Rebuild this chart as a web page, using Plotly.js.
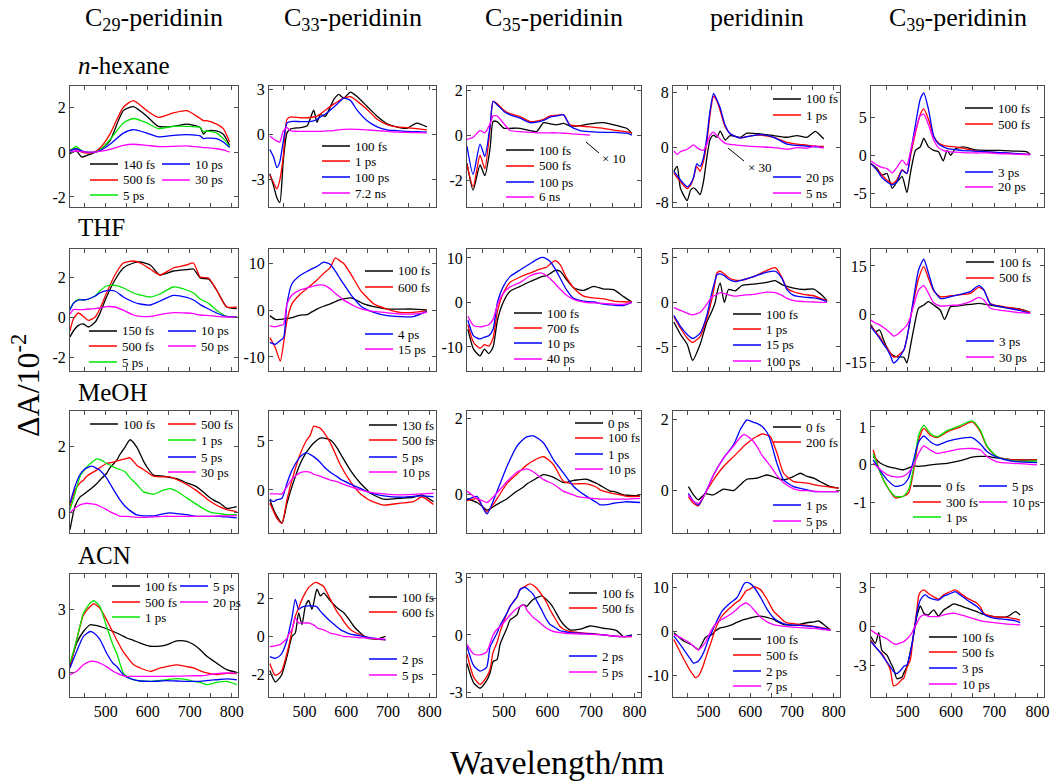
<!DOCTYPE html>
<html><head><meta charset="utf-8">
<script src="https://cdn.plot.ly/plotly-3.0.1.min.js"></script>
<style>html,body{margin:0;padding:0;background:#fff}</style>
</head><body><div id="chart" style="width:1050px;height:783px"></div>
<script>
// ---------- DATA (ΔA / 10^-2 versus wavelength in nm) ----------
// Row 1: n-hexane
const hex_C29_wl = [415,430,443,455,475,490,510,542,566,598,625,661,693,725,733,740,764,780,795];
const hex_C29_labels = ['140 fs','500 fs','5 ps','10 ps','30 ps'];
const hex_C29_140fs = [-0.07,0.05,-0.22,-0.15,0.0,0.15,0.5,1.85,2.03,1.6,1.15,1.15,1.25,1.1,0.8,0.95,0.95,0.8,0.3];
const hex_C29_500fs = [0.1,0.15,0.0,-0.05,0.02,0.25,0.8,2.0,2.3,1.85,1.55,1.75,1.85,1.5,1.4,1.4,1.25,1.05,0.45];
const hex_C29_5ps = [0.05,0.25,0.05,0.0,0.0,0.15,0.55,1.3,1.5,1.3,1.05,1.15,1.15,1.1,0.9,0.95,0.85,0.6,0.25];
const hex_C29_10ps = [0.05,0.15,0.05,0.0,0.0,0.1,0.35,0.85,1.0,0.85,0.68,0.75,0.78,0.72,0.6,0.62,0.6,0.45,0.2];
const hex_C29_30ps = [0.0,0.05,0.02,0.0,0.0,0.04,0.12,0.3,0.35,0.3,0.25,0.26,0.28,0.22,0.2,0.2,0.15,0.1,0.0];

const hex_C33_wl = [417,426,434,441,449,458,466,490,506,522,530,538,550,570,582,594,610,626,650,674,698,720,745,769,793];
const hex_C33_labels = ['100 fs','1 ps','100 ps','7.2 ns'];
const hex_C33_100fs = [-2.6,-3.4,-4.2,-4.5,-1.8,0.1,0.35,0.45,0.55,1.6,0.8,1.3,1.2,2.3,2.65,2.4,2.8,2.5,1.85,1.2,0.7,0.5,0.4,0.75,0.5];
const hex_C33_1ps = [-2.7,-3.2,-3.6,-3.0,-1.5,1.0,1.15,1.1,1.1,1.15,1.2,1.35,1.6,2.0,2.2,2.4,2.5,2.2,1.65,1.0,0.65,0.5,0.45,0.38,0.3];
const hex_C33_100ps = [-1.0,-1.5,-2.2,-1.8,-0.5,0.75,0.85,0.85,0.85,0.9,1.0,1.15,1.35,1.8,2.1,2.4,2.25,1.6,0.9,0.5,0.3,0.25,0.2,0.18,0.15];
const hex_C33_7p2ns = [-0.1,-0.3,-0.45,-0.5,0.2,0.45,0.25,0.2,0.2,0.2,0.2,0.2,0.22,0.25,0.3,0.33,0.35,0.33,0.3,0.25,0.2,0.15,0.13,0.12,0.1];

const hex_C35_wl = [415,429,445,456,468,475,484,500,514,537,560,575,591,606,621,637,652,675,698,729,752,767,782,794];
const hex_C35_labels = ['100 fs','500 fs','100 ps','6 ns'];
const hex_C35_100fs = [-1.25,-2.45,-1.33,-1.8,-0.6,0.6,0.6,0.3,0.3,0.3,0.2,0.15,0.55,0.5,0.45,0.52,0.4,0.42,0.5,0.55,0.45,0.38,0.3,0.07];
const hex_C35_500fs = [-1.3,-2.3,-0.9,-1.5,0.3,1.5,1.4,1.1,0.95,0.82,0.6,0.62,0.7,0.85,0.88,0.9,0.45,0.4,0.36,0.3,0.22,0.18,0.14,0.1];
const hex_C35_100ps = [-0.5,-1.75,-0.4,-0.95,0.4,1.5,1.35,1.05,0.9,0.75,0.55,0.57,0.65,0.8,0.85,0.9,0.4,0.2,0.15,0.12,0.12,0.1,0.08,0.0];
const hex_C35_6ns = [-0.2,-0.1,0.2,0.1,0.5,0.85,0.85,0.5,0.2,0.15,0.12,0.1,0.1,0.1,0.1,0.08,0.06,0.03,0.0,null,null,null,null,null];

const hex_per_wl = [417,425,433,449,457,464,472,480,488,496,504,512,520,528,540,552,576,592,624,656,688,712,736,756,768,776];
const hex_per_labels = ['100 fs','1 ps','20 ps','5 ns'];
const hex_per_100fs = [-3.5,-2.75,-6,-7.75,-6.25,-5.9,-6.3,-6.9,-5,-1.5,1.2,1.8,1.5,2.4,1.1,1.75,1.5,2.1,2.0,1.75,1.5,1.75,1.5,2.35,1.75,1.25];
const hex_per_1ps = [-3.75,-4.4,-5,-6,-5.5,-4.5,-2.75,-3.5,-2,0.8,5,7.5,6.8,5.4,3,2.0,1.4,1.6,1.8,1.5,0.75,0.5,0.35,0.2,0.15,0.15];
const hex_per_20ps = [-3.5,-4.1,-4.75,-5.75,-5.3,-4.4,-2.4,-2.75,-1.5,1.5,5.5,7.9,7.0,5.8,3.25,2.0,1.4,1.6,1.9,1.5,0.5,0.3,0.2,0.1,0.05,0.0];
const hex_per_5ns = [-0.5,-1,-0.6,-0.25,0.1,0.4,0.0,-0.3,-0.4,0.5,1.8,2.25,1.75,1.2,0.6,0.45,0.3,0.2,0.1,0.0,-0.25,0.0,-0.1,0.25,0.0,0.0];

const hex_C39_wl = [415,429,440,452,464,475,487,498,506,518,529,537,548,560,571,582,591,599,610,629,653,683,714,745,776,783];
const hex_C39_labels = ['100 fs','500 fs','3 ps','20 ps'];
const hex_C39_100fs = [-1.1,-1.75,-2.6,-2.4,-4.35,-3.5,-2.8,-4.9,-2.4,0.65,1.1,2.2,1.1,0.65,0.45,-0.75,0.65,0.0,0.85,1.1,0.75,0.65,0.65,0.55,0.45,0.1];
const hex_C39_500fs = [-1.1,-1.9,-2.6,-3.3,-3.7,-3.2,-1.9,-2.4,-0.2,3.0,5.4,6.1,4.7,2.5,1.6,1.3,1.2,1.15,1.1,0.9,0.6,0.45,0.32,0.22,0.12,0.1];
const hex_C39_3ps = [-1.1,-2.0,-2.9,-3.5,-3.9,-3.5,-2.0,-2.4,0.2,4.1,7.4,8.2,6.0,2.5,1.5,1.1,0.9,0.8,0.75,0.6,0.55,0.45,0.35,0.25,0.12,0.1];
const hex_C39_20ps = [-0.75,-1.3,-1.6,-1.75,-2.3,-1.6,-0.65,-1.3,0.45,3.25,5.2,5.4,4.0,2.0,1.0,0.65,0.5,0.45,0.4,0.35,0.3,0.3,0.2,0.15,0.1,0.1];

// Row 2: THF
const thf_C29_wl = [415,423,435,447,459,475,486,502,522,542,566,582,606,629,661,693,709,725,745,764,788,812];
const thf_C29_labels = ['150 fs','500 fs','5 ps','10 ps','50 ps'];
const thf_C29_150fs = [-1.0,-0.7,-0.42,-0.35,-0.5,-0.25,0.17,1.0,1.85,2.45,2.7,2.75,2.6,2.1,2.3,2.37,2.4,1.95,1.9,1.35,0.5,0.42];
const thf_C29_500fs = [-0.7,-0.1,0.2,0.03,-0.17,0.0,0.4,1.2,2.1,2.7,2.8,2.7,2.4,2.1,2.45,2.6,2.7,2.0,1.95,1.35,0.5,0.5];
const thf_C29_5ps = [0.42,0.68,0.88,0.85,0.9,1.05,1.3,1.55,1.58,1.45,1.2,1.1,1.0,1.15,1.5,1.35,1.2,0.9,0.68,0.34,0.03,0.0];
const thf_C29_10ps = [0.34,0.68,0.85,0.85,0.9,1.05,1.2,1.32,1.3,1.0,0.75,0.65,0.6,0.8,1.08,0.98,0.85,0.62,0.4,0.2,0.03,0.0];
const thf_C29_50ps = [0.14,0.37,0.37,0.37,0.4,0.42,0.45,0.52,0.5,0.34,0.1,0.03,0.03,0.12,0.22,0.2,0.17,0.1,0.07,0.03,0.0,0.0];

const thf_C33_wl = [417,430,442,450,458,470,490,506,514,530,546,562,574,586,594,610,618,634,642,666,698,729,761,793];
const thf_C33_labels = ['100 fs','600 fs','4 ps','15 ps'];
const thf_C33_100fs = [-1.2,-2.0,-2.0,-1.9,-1.8,-1.6,-1.1,-1.0,-0.6,0.2,0.8,1.3,1.8,2.2,2.35,2.6,2.4,1.65,1.3,0.7,0.2,0.2,0.2,0.0];
const thf_C33_600fs = [-5.9,-8,-10.9,-7,-2.3,1.3,3.4,4.6,5.2,6.4,7.8,9.1,11.1,10.4,9.9,7.8,6.6,4.2,3.4,1.3,0.2,-0.5,-0.5,-0.15];
const thf_C33_4ps = [-6.9,-7.3,-6.5,-5.9,1.3,5.6,7.4,8.2,8.6,9.3,10.2,9.7,8.3,6.6,5.5,3.4,2.5,0.9,0.4,-0.5,-1.2,-1.4,-1.4,-0.3];
const thf_C33_15ps = [-3.4,-3.6,-3.3,-3.0,1.3,3.2,4.3,4.7,4.9,5.3,5.3,4.5,3.5,2.7,2.1,1.3,0.9,0.3,0.1,-0.3,-0.6,-0.85,-0.85,-0.5];

const thf_C35_wl = [417,430,445,455,465,475,485,498,514,537,560,575,587,598,606,618,629,644,660,683,706,729,752,775,794];
const thf_C35_labels = ['100 fs','700 fs','10 ps','40 ps'];
const thf_C35_100fs = [-6,-10.5,-12,-10.5,-11.5,-10,-4,0,2.5,3.6,4.7,5.3,5.8,6.0,6.5,7.2,7.0,5.1,3.3,2.7,3.6,3.0,2.9,1.3,0.1];
const thf_C35_700fs = [-5,-9,-10.3,-9.5,-9.8,-8,-2,2,4.5,5.7,6.6,7.2,7.6,7.9,8.6,9.4,8.5,5.5,3.3,1.4,1.0,0.8,0.3,0.15,0.1];
const thf_C35_10ps = [-4,-7.5,-8.2,-7.8,-7.5,-6,0,3.5,5.8,7.3,8.7,9.6,10.1,9.8,9.2,7.5,5.5,2.8,0.9,0.3,0.1,-0.4,-0.6,-0.7,0.0];
const thf_C35_40ps = [-3.1,-5.2,-5.5,-5.3,-5,-3.8,-0.5,2,3.5,4.5,6.0,6.5,6.6,6.0,5.3,4.2,3.0,1.6,0.7,0.1,-0.1,-0.2,-0.4,-0.45,0.0];

const thf_per_wl = [417,433,449,462,480,496,508,516,520,528,538,548,564,580,608,640,660,676,688,704,728,752,772,784];
const thf_per_labels = ['100 fs','1 ps','15 ps','100 ps'];
const thf_per_100fs = [-2.2,-3.6,-4.7,-6.5,-4.7,-2.2,-1.0,0.0,1.0,2.2,0.0,1.45,1.3,1.9,2.05,2.25,2.45,2.0,1.8,1.6,1.45,1.5,0.8,0.2];
const thf_per_1ps = [-1.6,-2.9,-4.0,-4.5,-3.8,-1.8,0.35,2.3,3.3,3.5,3.2,2.8,2.5,2.5,2.9,3.6,3.9,2.8,1.6,1.2,0.9,0.75,0.4,0.2];
const thf_per_15ps = [-1.45,-2.7,-3.6,-4.05,-3.45,-1.45,1.1,2.5,3.1,3.2,3.0,2.6,2.35,2.5,2.9,3.4,3.5,2.7,1.45,0.8,0.6,0.5,0.3,0.1];
const thf_per_100ps = [-0.55,-0.9,-1.2,-1.4,-1.1,-0.2,0.6,0.8,0.9,1.1,1.0,0.85,0.7,0.8,0.9,1.15,1.1,0.8,0.45,0.2,0.1,0.05,0.0,0.0];

const thf_C39_wl = [415,425,435,444,452,460,467,475,491,498,506,514,525,537,548,560,575,585,599,614,629,645,664,676,691,722,760,783];
const thf_C39_labels = ['100 fs','500 fs','3 ps','30 ps'];
const thf_C39_100fs = [-3.4,-5.5,-5,-8.1,-10.5,-12.3,-13,-13.4,-13.5,-15.3,-10.2,-4.5,1.8,2.8,3.85,2.8,1.25,-1.7,2.3,2.5,2.8,3.0,3.3,3.1,2.8,2.1,1.55,0.5];
const thf_C39_500fs = [-3.75,-5.5,-7.1,-9.2,-10.6,-12.2,-13.4,-13.2,-11.25,-7.5,-1.5,4.4,11.1,14.8,11.1,7.2,5.4,5.4,5.7,5.9,6.1,6.45,8.3,7.5,3.3,2.3,1.45,0.4];
const thf_C39_3ps = [-4,-5.8,-7.6,-9.5,-11,-13,-15.3,-14.5,-11.25,-7.5,-1.5,5.4,13.75,17.1,12.7,7.5,4.9,4.9,5.4,5.9,6.4,7.0,8.85,7.5,3.1,2.1,1.05,0.2];
const thf_C39_30ps = [-1.9,-2.8,-3.4,-4.2,-5,-6,-6.9,-6.5,-4.5,-3.5,-1.0,2.8,7.5,8.85,6.45,3.5,2.5,2.5,2.7,2.8,3.2,3.85,5.2,4.4,1.8,1.05,0.4,0.2];

// Row 3: MeOH
const meoh_C29_wl = [415,427,439,447,455,467,479,486,502,510,526,534,546,558,574,590,598,614,637,653,669,693,717,741,756,772,788,812];
const meoh_C29_labels = ['100 fs','500 fs','1 ps','5 ps','30 ps'];
const meoh_C29_100fs = [-0.5,0.2,0.48,0.55,0.63,0.75,0.88,0.98,1.18,1.35,1.57,1.75,1.97,2.19,1.97,1.55,1.38,1.13,1.1,1.06,1.03,0.9,0.78,0.53,0.39,0.29,0.14,0.19];
const meoh_C29_500fs = [0.2,0.68,0.9,0.98,1.1,1.2,1.28,1.35,1.48,1.5,1.55,1.58,1.62,1.65,1.43,1.3,1.23,1.1,1.08,1.08,1.0,0.85,0.66,0.42,0.29,0.18,0.1,0.04];
const meoh_C29_1ps = [0.09,0.58,1.1,1.25,1.38,1.52,1.62,1.6,1.48,1.43,1.33,1.3,1.23,1.05,0.85,0.63,0.6,0.56,0.68,0.73,0.65,0.45,0.25,0.07,0.0,-0.02,-0.05,-0.05];
const meoh_C29_5ps = [0.29,0.8,1.15,1.28,1.35,1.4,1.33,1.28,1.05,0.88,0.55,0.39,0.2,0.07,-0.06,-0.09,-0.09,-0.09,-0.03,0.0,-0.02,-0.05,-0.1,-0.1,-0.1,-0.1,-0.12,-0.15];
const meoh_C29_30ps = [0.0,0.15,0.24,0.27,0.29,0.27,0.24,0.2,0.1,0.04,-0.05,-0.1,-0.1,-0.11,-0.13,-0.13,-0.13,-0.12,-0.1,-0.1,-0.1,-0.1,-0.1,-0.1,-0.1,-0.09,-0.09,-0.08];

const meoh_C33_wl = [417,426,434,446,458,470,490,504,514,522,538,546,562,578,586,610,634,650,658,690,729,761,781,809];
const meoh_C33_labels = ['130 fs','500 fs','5 ps','10 ps'];
const meoh_C33_130fs = [-1.0,-2.0,-2.7,-3.4,-1.4,0.34,2.7,3.8,4.4,4.8,5.3,5.3,5.1,4.3,3.7,2.0,0.68,0.0,-0.34,-0.95,-0.85,-0.75,-0.5,-1.2];
const meoh_C33_500fs = [-1.35,-2.2,-2.9,-3.4,-1.0,1.0,3.7,5.0,5.6,6.5,6.3,5.9,4.8,3.3,2.55,0.85,-0.4,-0.9,-1.1,-1.55,-1.35,-1.2,-0.7,-1.5];
const meoh_C33_5ps = [-0.95,-1.2,-1.0,-0.85,0.68,2.0,3.4,3.8,3.6,3.4,2.8,2.4,1.8,1.36,1.1,0.6,0.15,-0.17,-0.3,-0.6,-0.75,-0.65,-0.6,-0.7];
const meoh_C33_10ps = [-0.4,-0.4,-0.4,-0.4,0.34,1.1,1.77,1.87,1.8,1.6,1.4,1.25,1.0,0.85,0.7,0.34,0.0,-0.17,-0.25,-0.4,-0.5,-0.45,-0.4,-0.34];

const meoh_C35_wl = [415,438,450,461,484,507,530,544,552,568,591,614,637,660,667,690,713,721,744,752,775,782,813];
const meoh_C35_labels = ['0 ps','100 fs','1 ps','10 ps'];
const meoh_C35_0ps = [-0.1,-0.2,-0.3,-0.4,-0.25,-0.1,0.1,0.2,0.28,0.39,0.53,0.46,0.32,0.38,0.39,0.41,0.3,0.25,0.1,0.09,0.0,-0.01,-0.03];
const meoh_C35_100fs = [-0.15,-0.1,-0.3,-0.45,-0.1,0.3,0.55,0.7,0.78,0.9,1.0,0.79,0.35,0.29,0.29,0.29,0.2,0.13,0.05,0.03,-0.02,-0.04,-0.04];
const meoh_C35_1ps = [-0.13,-0.04,-0.3,-0.5,0.09,0.75,1.28,1.45,1.52,1.55,1.36,0.92,0.57,0.22,0.15,-0.04,-0.2,-0.26,-0.24,-0.22,-0.19,-0.18,-0.2];
const meoh_C35_10ps = [0.1,-0.1,-0.15,-0.2,0.05,0.35,0.6,0.66,0.68,0.6,0.4,0.28,0.09,0.0,-0.04,-0.08,-0.1,-0.11,-0.11,-0.11,-0.11,-0.11,-0.09];

const meoh_per_wl = [452,464,476,492,512,536,560,576,584,592,608,616,628,640,648,664,680,704,720,736,752,768,792,812];
const meoh_per_labels = ['0 fs','200 fs','1 ps','5 ps'];
const meoh_per_0fs = [0.11,-0.12,-0.26,-0.09,-0.12,0.04,0.0,0.16,0.25,0.32,0.34,0.35,0.4,0.44,0.42,0.35,0.3,0.4,0.49,0.4,0.35,0.25,0.11,0.07];
const meoh_per_200fs = [-0.17,-0.36,-0.43,-0.08,0.3,0.68,0.96,1.15,1.25,1.33,1.48,1.53,1.6,1.57,1.53,1.06,0.49,0.25,0.23,0.21,0.17,0.13,0.1,0.07];
const meoh_per_1ps = [-0.08,-0.3,-0.41,-0.08,0.44,0.92,1.29,1.72,1.88,2.0,1.93,1.9,1.82,1.65,1.43,0.77,0.3,0.11,0.06,0.02,-0.03,-0.03,-0.03,-0.03];
const meoh_per_5ps = [-0.12,-0.3,-0.36,-0.09,0.44,0.92,1.26,1.5,1.58,1.55,1.38,1.25,1.0,0.82,0.7,0.42,0.22,0.05,0.0,0.0,-0.02,-0.03,-0.03,-0.03];

const meoh_C39_wl = [420,437,452,471,490,502,514,525,537,552,568,591,622,649,668,683,706,745,799];
const meoh_C39_labels = ['0 fs','300 fs','1 ps','5 ps','10 ps'];
const meoh_C39_0fs = [0.22,0.04,-0.04,-0.09,-0.13,-0.08,-0.03,-0.04,-0.03,0.0,0.02,0.04,0.11,0.2,0.22,0.22,0.18,0.13,0.13];
const meoh_C39_300fs = [0.39,-0.22,-0.57,-0.87,-0.83,-0.74,-0.13,0.65,0.96,0.78,0.72,0.87,1.0,1.13,0.87,0.48,0.22,0.13,0.13];
const meoh_C39_1ps = [0.3,-0.22,-0.57,-0.83,-0.83,-0.65,-0.04,0.78,1.04,0.83,0.74,0.9,1.04,1.16,0.91,0.5,0.22,0.1,0.1];
const meoh_C39_5ps = [0.13,-0.17,-0.39,-0.57,-0.52,-0.35,0.15,0.6,0.76,0.61,0.52,0.62,0.7,0.72,0.55,0.35,0.2,0.09,0.06];
const meoh_C39_10ps = [0.04,-0.13,-0.26,-0.32,-0.3,-0.2,0.0,0.3,0.5,0.39,0.3,0.35,0.42,0.43,0.39,0.22,0.08,0.04,0.0];

// Row 4: ACN
const acn_C29_wl = [415,431,447,463,472,486,502,518,526,542,550,566,582,606,630,645,669,693,709,725,741,764,788,812];
const acn_C29_labels = ['100 fs','500 fs','1 ps','5 ps','20 ps'];
const acn_C29_100fs = [0.32,1.42,1.97,2.29,2.27,2.21,2.1,1.97,1.9,1.75,1.66,1.55,1.42,1.27,1.28,1.34,1.52,1.5,1.35,1.1,0.79,0.47,0.16,0.03];
const acn_C29_500fs = [0.24,1.58,2.76,3.16,3.29,3.08,2.53,1.9,1.58,1.0,0.79,0.4,0.24,0.08,0.24,0.3,0.39,0.3,0.24,0.1,0.0,-0.08,-0.02,-0.03];
const acn_C29_1ps = [0.47,1.58,2.84,3.32,3.43,3.16,2.21,1.3,0.95,0.0,-0.15,-0.32,-0.38,-0.4,-0.35,-0.32,-0.27,-0.32,-0.4,-0.45,-0.55,-0.45,-0.4,-0.55];
const acn_C29_5ps = [0.24,1.03,1.74,1.97,1.9,1.6,0.95,0.45,0.32,-0.08,-0.2,-0.32,-0.38,-0.4,-0.38,-0.36,-0.38,-0.4,-0.4,-0.4,-0.36,-0.32,-0.28,-0.32];
const acn_C29_20ps = [-0.08,0.08,0.39,0.55,0.55,0.47,0.3,0.08,0.0,-0.14,-0.16,-0.16,-0.16,-0.16,-0.16,-0.16,-0.15,-0.14,-0.13,-0.13,-0.1,-0.03,0.0,0.0];

const acn_C33_wl = [417,430,442,446,458,462,470,478,486,494,502,510,518,526,530,538,546,562,578,586,594,610,618,634,650,674,694];
const acn_C33_labels = ['100 fs','600 fs','2 ps','5 ps'];
const acn_C33_100fs = [-1.8,-2.4,-2.15,-2.0,-1.07,-0.7,0.0,0.18,1.25,0.62,1.6,1.9,1.43,2.2,2.5,2.14,2.29,1.88,1.52,1.38,1.25,0.8,0.54,0.18,-0.09,-0.14,0.0];
const acn_C33_600fs = [-1.43,-2.05,-1.9,-1.8,-0.9,-0.54,0.3,1.07,1.5,1.96,2.3,2.59,2.75,2.86,2.84,2.75,2.64,1.96,1.3,1.07,0.8,0.36,0.25,0.09,-0.05,-0.14,-0.18];
const acn_C33_2ps = [-1.07,-1.16,-1.0,-0.89,-0.2,0.18,0.98,1.96,1.43,1.55,1.6,1.62,1.62,1.6,1.55,1.34,1.15,0.8,0.5,0.36,0.27,0.12,0.09,0.03,-0.04,-0.12,-0.18];
const acn_C33_5ps = [-0.54,-0.5,-0.42,-0.36,-0.1,0.1,0.36,0.98,0.71,0.72,0.71,0.71,0.65,0.55,0.45,0.4,0.35,0.18,0.1,0.05,0.0,-0.02,-0.04,-0.07,-0.09,-0.12,-0.14];

const acn_C35_wl = [415,430,445,460,468,475,484,491,507,514,530,537,545,549,552,560,568,575,587,598,606,614,629,637,652,675,698,729,759,775,794];
const acn_C35_labels = ['100 fs','500 fs','2 ps','5 ps'];
const acn_C35_100fs = [-1.5,-2.5,-2.8,-2.4,-2.0,-1.4,-1.3,-0.5,0.37,0.79,1.05,1.5,1.58,1.55,1.49,1.7,1.88,1.95,2.05,1.85,1.67,1.4,0.79,0.55,0.26,0.3,0.47,0.35,0.23,-0.09,0.0];
const acn_C35_500fs = [-1.0,-2.2,-2.6,-2.2,-1.8,-0.9,-0.4,0.16,1.15,1.5,2.0,2.4,2.5,2.55,2.6,2.68,2.6,2.45,2.1,1.7,1.32,1.0,0.44,0.3,0.18,0.12,0.08,0.0,-0.08,-0.09,-0.09];
const acn_C35_2ps = [-0.6,-1.6,-1.9,-1.7,-0.63,-0.3,0.1,0.5,1.15,1.5,2.0,2.37,2.48,2.5,2.45,2.3,2.1,1.8,1.3,0.8,0.55,0.44,0.22,0.18,0.12,0.09,0.05,0.0,-0.08,-0.09,-0.05];
const acn_C35_5ps = [-0.5,-1.0,-1.05,-0.9,-0.45,0.0,0.3,0.44,0.85,1.05,1.4,1.49,1.58,1.5,1.32,1.1,0.9,0.79,0.55,0.35,0.25,0.18,0.12,0.1,0.07,0.05,0.03,0.0,-0.07,-0.09,-0.09];

const acn_per_wl = [417,441,457,464,468,476,484,492,500,508,516,528,532,552,568,576,584,588,592,600,608,624,632,640,656,664,680,688,704,720,736,752,764,776,792];
const acn_per_labels = ['100 fs','500 fs','2 ps','7 ps'];
const acn_per_100fs = [-0.4,-2.3,-3.0,-3.4,-3.7,-4.2,-3.0,-1.5,-1.0,-0.8,0.0,0.76,0.8,1.3,2.0,2.3,2.6,2.7,2.8,3.0,3.2,3.4,3.3,3.1,2.65,2.2,1.5,1.4,1.3,1.6,1.9,2.1,2.3,1.5,0.2];
const acn_per_500fs = [-1.9,-6.4,-9.1,-10.0,-10.6,-10.2,-8.7,-6.5,-4.2,-2.0,0.38,2.8,3.4,5.3,6.6,7.2,8.3,8.9,9.3,9.6,10.1,9.5,8.5,7.3,4.5,3.8,2.3,1.9,1.7,1.5,1.3,1.1,0.9,0.7,0.4];
const acn_per_2ps = [-1.1,-4.2,-6.4,-7.3,-7.2,-6.8,-5.7,-4.0,-1.9,-0.2,1.5,3.8,4.5,6.4,7.6,9.0,10.6,11.0,11.1,10.8,10.1,7.8,6.4,5.0,3.0,2.4,1.7,1.5,1.35,1.3,1.15,1.0,0.8,0.6,0.2];
const acn_per_7ps = [-0.76,-1.9,-2.8,-3.4,-3.8,-4.3,-3.6,-2.65,-1.1,0.38,1.5,2.4,2.65,3.8,5.0,5.7,6.2,6.4,6.3,5.8,4.9,3.2,2.65,2.1,1.5,1.3,1.1,1.0,0.9,0.8,0.7,0.6,0.5,0.35,0.2];

const acn_C39_wl = [415,425,433,440,452,460,467,475,487,491,498,506,510,514,521,525,529,537,541,548,552,560,571,583,591,606,610,637,660,668,676,699,730,749,760];
const acn_C39_labels = ['100 fs','500 fs','3 ps','10 ps'];
const acn_C39_100fs = [-0.82,-1.34,-0.52,-1.86,-2.24,-2.8,-3.27,-4.05,-3.92,-3.6,-3.14,-2.0,-1.34,-0.6,0.72,1.2,1.55,0.98,0.9,0.85,1.0,1.24,0.77,1.24,1.4,1.7,1.68,1.37,1.1,0.98,0.9,0.72,0.72,1.1,0.85];
const acn_C39_500fs = [-1.08,-1.6,-1.9,-2.1,-2.8,-3.4,-4.6,-4.5,-4.1,-4.0,-3.2,-2.6,-1.6,-0.44,1.2,2.27,2.6,2.78,2.7,2.5,2.4,2.25,2.06,2.4,2.53,2.75,2.78,2.14,1.75,1.45,0.98,0.72,0.67,0.55,0.46];
const acn_C39_3ps = [-1.21,-1.6,-1.9,-2.2,-2.8,-3.14,-3.5,-3.66,-3.27,-3.1,-3.0,-2.0,-1.34,-0.5,0.98,1.6,2.0,2.35,2.4,2.2,2.14,2.05,2.0,2.3,2.4,2.6,2.65,2.0,1.5,1.24,0.9,0.6,0.5,0.4,0.26];
const acn_C39_10ps = [-0.3,-0.55,-0.7,-0.8,-1.0,-1.2,-1.35,-1.4,-1.25,-1.2,-1.0,-0.7,-0.5,-0.2,0.2,0.5,0.7,0.85,0.83,0.75,0.72,0.72,0.72,0.85,0.92,0.98,0.97,0.72,0.5,0.41,0.35,0.26,0.15,0.1,0.08];

// Text
const columnTitles = ['C<sub>29</sub>-peridinin','C<sub>33</sub>-peridinin','C<sub>35</sub>-peridinin','peridinin','C<sub>39</sub>-peridinin'];
const solventLabels = ['<i>n</i>-hexane','THF','MeOH','ACN'];
const xTickValues = [500,600,700,800];

// ---------- LAYOUT / STYLE ----------
const W = 1050, H = 783;
const colL = [70,269,467,673,871], colR = [238,436,641,840,1044];
const rowT = [86,249,411,574], rowB = [207,371,533,697];
const COL = {k:'#000000', r:'#ff0000', g:'#00e600', b:'#0000ff', m:'#ff00ff'};
const FONT = 'Liberation Serif';

const panels = [
  {wl:hex_C29_wl, ys:[hex_C29_140fs,hex_C29_500fs,hex_C29_5ps,hex_C29_10ps,hex_C29_30ps], lab:hex_C29_labels, c:'krgbm', yr:[-2.45,2.95], yt:[-2,0,2],
   leg:[[0,90,164],[1,90,180],[2,90,195],[3,162,164],[4,162,180]]},
  {wl:hex_C33_wl, ys:[hex_C33_100fs,hex_C33_1ps,hex_C33_100ps,hex_C33_7p2ns], lab:hex_C33_labels, c:'krbm', yr:[-4.8,3.2], yt:[-3,0,3],
   leg:[[0,322,146],[1,322,161],[2,322,177],[3,322,193]]},
  {wl:hex_C35_wl, ys:[hex_C35_100fs,hex_C35_500fs,hex_C35_100ps,hex_C35_6ns], lab:hex_C35_labels, c:'krbm', yr:[-3.2,2.18], yt:[-2,0,2],
   leg:[[0,506,150],[1,506,166],[2,506,182],[3,506,197]]},
  {wl:hex_per_wl, ys:[hex_per_100fs,hex_per_1ps,hex_per_20ps,hex_per_5ns], lab:hex_per_labels, c:'krbm', yr:[-8.7,9.0], yt:[-8,0,8],
   leg:[[0,773,99],[1,773,115],[2,773,177],[3,773,193]]},
  {wl:hex_C39_wl, ys:[hex_C39_100fs,hex_C39_500fs,hex_C39_3ps,hex_C39_20ps], lab:hex_C39_labels, c:'krbm', yr:[-6.8,9.1], yt:[-5,0,5],
   leg:[[0,965,108],[1,965,124],[2,965,172],[3,965,187]]},

  {wl:thf_C29_wl, ys:[thf_C29_150fs,thf_C29_500fs,thf_C29_5ps,thf_C29_10ps,thf_C29_50ps], lab:thf_C29_labels, c:'krgbm', yr:[-2.7,3.4], yt:[-2,0,2],
   leg:[[0,89,331],[1,89,346],[2,89,362],[3,168,331],[4,168,346]]},
  {wl:thf_C33_wl, ys:[thf_C33_100fs,thf_C33_600fs,thf_C33_4ps,thf_C33_15ps], lab:thf_C33_labels, c:'krbm', yr:[-13,13], yt:[-10,0,10],
   leg:[[0,365,271],[1,365,287],[2,365,334],[3,365,349]]},
  {wl:thf_C35_wl, ys:[thf_C35_100fs,thf_C35_700fs,thf_C35_10ps,thf_C35_40ps], lab:thf_C35_labels, c:'krbm', yr:[-15.4,12], yt:[-10,0,10],
   leg:[[0,514,313],[1,514,328],[2,514,343],[3,514,359]]},
  {wl:thf_per_wl, ys:[thf_per_100fs,thf_per_1ps,thf_per_15ps,thf_per_100ps], lab:thf_per_labels, c:'krbm', yr:[-7.7,6], yt:[-5,0,5],
   leg:[[0,733,314],[1,733,329],[2,733,345],[3,733,361]]},
  {wl:thf_C39_wl, ys:[thf_C39_100fs,thf_C39_500fs,thf_C39_3ps,thf_C39_30ps], lab:thf_C39_labels, c:'krbm', yr:[-17.8,20.3], yt:[-15,0,15],
   leg:[[0,966,262],[1,966,278],[2,966,341],[3,966,357]]},

  {wl:meoh_C29_wl, ys:[meoh_C29_100fs,meoh_C29_500fs,meoh_C29_1ps,meoh_C29_5ps,meoh_C29_30ps], lab:meoh_C29_labels, c:'krgbm', yr:[-0.6,3.05], yt:[0,2],
   leg:[[0,90,424],[1,168,424],[2,168,440],[3,168,457],[4,168,472]]},
  {wl:meoh_C33_wl, ys:[meoh_C33_130fs,meoh_C33_500fs,meoh_C33_5ps,meoh_C33_10ps], lab:meoh_C33_labels, c:'krbm', yr:[-4.4,8.06], yt:[0,5],
   leg:[[0,369,425],[1,369,440],[2,369,457],[3,369,472]]},
  {wl:meoh_C35_wl, ys:[meoh_C35_0ps,meoh_C35_100fs,meoh_C35_1ps,meoh_C35_10ps], lab:meoh_C35_labels, c:'krbm', yr:[-1.0,2.2], yt:[0,2],
   leg:[[0,575,423],[1,575,438],[2,575,454],[3,575,469]]},
  {wl:meoh_per_wl, ys:[meoh_per_0fs,meoh_per_200fs,meoh_per_1ps,meoh_per_5ps], lab:meoh_per_labels, c:'krbm', yr:[-1.2,2.25], yt:[0,2],
   leg:[[0,773,427],[1,773,442],[2,773,505],[3,773,521]]},
  {wl:meoh_C39_wl, ys:[meoh_C39_0fs,meoh_C39_300fs,meoh_C39_1ps,meoh_C39_5ps,meoh_C39_10ps], lab:meoh_C39_labels, c:'krgbm', yr:[-1.8,1.42], yt:[-1,0,1],
   leg:[[0,913,486],[1,913,502],[2,913,517],[3,979,486],[4,979,502]]},

  {wl:acn_C29_wl, ys:[acn_C29_100fs,acn_C29_500fs,acn_C29_1ps,acn_C29_5ps,acn_C29_20ps], lab:acn_C29_labels, c:'krgbm', yr:[-1.14,4.7], yt:[0,3],
   leg:[[0,112,586],[1,112,602],[2,112,617],[3,180,586],[4,180,602]]},
  {wl:acn_C33_wl, ys:[acn_C33_100fs,acn_C33_600fs,acn_C33_2ps,acn_C33_5ps], lab:acn_C33_labels, c:'krbm', yr:[-3.2,3.3], yt:[-2,0,2],
   leg:[[0,369,597],[1,369,612],[2,369,659],[3,369,675]]},
  {wl:acn_C35_wl, ys:[acn_C35_100fs,acn_C35_500fs,acn_C35_2ps,acn_C35_5ps], lab:acn_C35_labels, c:'krbm', yr:[-3.26,3.2], yt:[-3,0,3],
   leg:[[0,569,593],[1,569,608],[2,569,656],[3,569,672]]},
  {wl:acn_per_wl, ys:[acn_per_100fs,acn_per_500fs,acn_per_2ps,acn_per_7ps], lab:acn_per_labels, c:'krbm', yr:[-15,13], yt:[-10,0,10],
   leg:[[0,733,639],[1,733,655],[2,733,671],[3,733,686]]},
  {wl:acn_C39_wl, ys:[acn_C39_100fs,acn_C39_500fs,acn_C39_3ps,acn_C39_10ps], lab:acn_C39_labels, c:'krbm', yr:[-5.46,4], yt:[-3,0,3],
   leg:[[0,929,637],[1,929,652],[2,929,668],[3,929,684]]}
];

const px = x => x / W, py = y => 1 - y / H;
const data = [], shapes = [], annotations = [];
const layout = {
  width: W, height: H, margin: {l:0, r:0, t:0, b:0},
  paper_bgcolor: '#fff', plot_bgcolor: '#fff', showlegend: false, hovermode: false,
  font: {family: FONT, color: '#000', size: 13}
};

panels.forEach((p, k) => {
  const r = Math.floor(k / 5), c = k % 5;
  const xs = k === 0 ? '' : String(k + 1);
  const frame = '#4d4d4d';
  layout['xaxis' + xs] = {
    domain: [px(colL[c]), px(colR[c])], anchor: 'y' + xs, range: [415, 815],
    tickmode: 'array', tickvals: xTickValues, ticktext: xTickValues.map(String),
    ticks: 'inside', ticklen: 4, tickwidth: 1, tickcolor: frame,
    showline: true, linecolor: frame, linewidth: 1, mirror: 'ticks',
    showgrid: false, zeroline: false, showticklabels: r === 3,
    tickfont: {family: FONT, size: 16, color: '#000'},
    minor: {tickmode: 'linear', tick0: 0, dtick: 50, ticks: 'inside', ticklen: 4, tickcolor: frame, showgrid: false}
  };
  layout['yaxis' + xs] = {
    domain: [py(rowB[r]), py(rowT[r])], anchor: 'x' + xs, range: p.yr,
    tickmode: 'array', tickvals: p.yt, ticktext: p.yt.map(String),
    ticks: 'inside', ticklen: 4, tickwidth: 1, tickcolor: frame,
    showline: true, linecolor: frame, linewidth: 1, mirror: 'ticks',
    showgrid: false, zeroline: false,
    tickfont: {family: FONT, size: 16, color: '#000'}
  };
  p.ys.forEach((y, i) => {
    data.push({
      type: 'scatter', mode: 'lines', x: p.wl, y: y, name: p.lab[i],
      xaxis: 'x' + xs, yaxis: 'y' + xs, connectgaps: false,
      line: {color: COL[p.c[i]], width: 1.3, shape: 'spline', smoothing: 0.6}
    });
  });
  p.leg.forEach(([i, x0, y0]) => {
    shapes.push({type: 'line', xref: 'paper', yref: 'paper', x0: px(x0), x1: px(x0 + 28), y0: py(y0), y1: py(y0),
      line: {color: COL[p.c[i]], width: 1.5}});
    annotations.push({xref: 'paper', yref: 'paper', x: px(x0 + 31), y: py(y0), xanchor: 'left', yanchor: 'middle',
      text: p.lab[i], showarrow: false, font: {family: FONT, size: 13, color: '#000'}});
  });
});

// magnification notes
annotations.push({xref:'paper', yref:'paper', x:px(600), y:py(158), xanchor:'left', yanchor:'middle', text:'× 10', showarrow:false, font:{family:FONT,size:13,color:'#000'}});
shapes.push({type:'line', xref:'paper', yref:'paper', x0:px(586), y0:py(142), x1:px(599), y1:py(153), line:{color:'#000', width:1}});
annotations.push({xref:'paper', yref:'paper', x:px(746), y:py(167), xanchor:'left', yanchor:'middle', text:'× 30', showarrow:false, font:{family:FONT,size:13,color:'#000'}});
shapes.push({type:'line', xref:'paper', yref:'paper', x0:px(728), y0:py(148), x1:px(744), y1:py(161), line:{color:'#000', width:1}});

// column titles
columnTitles.forEach((t, c) => {
  annotations.push({xref:'paper', yref:'paper', x:px((colL[c] + colR[c]) / 2), y:py(1), xanchor:'center', yanchor:'top',
    text:t, showarrow:false, font:{family:FONT, size:26, color:'#000'}});
});
// solvent labels
const solventY = [65, 227, 392, 555];
solventLabels.forEach((t, r) => {
  annotations.push({xref:'paper', yref:'paper', x:px(76), y:py(solventY[r]), xanchor:'left', yanchor:'middle',
    text:t, showarrow:false, font:{family:FONT, size:25, color:'#000'}});
});
// axis titles
annotations.push({xref:'paper', yref:'paper', x:px(26), y:py(386), xanchor:'center', yanchor:'middle', textangle:-90,
  text:'ΔA/10<sup>-2</sup>', showarrow:false, font:{family:FONT, size:32, color:'#000'}});
annotations.push({xref:'paper', yref:'paper', x:px(557), y:py(762), xanchor:'center', yanchor:'middle',
  text:'Wavelength/nm', showarrow:false, font:{family:FONT, size:34, color:'#000'}});

layout.shapes = shapes;
layout.annotations = annotations;
Plotly.newPlot('chart', data, layout, {staticPlot: true, displayModeBar: false});
</script></body></html>
